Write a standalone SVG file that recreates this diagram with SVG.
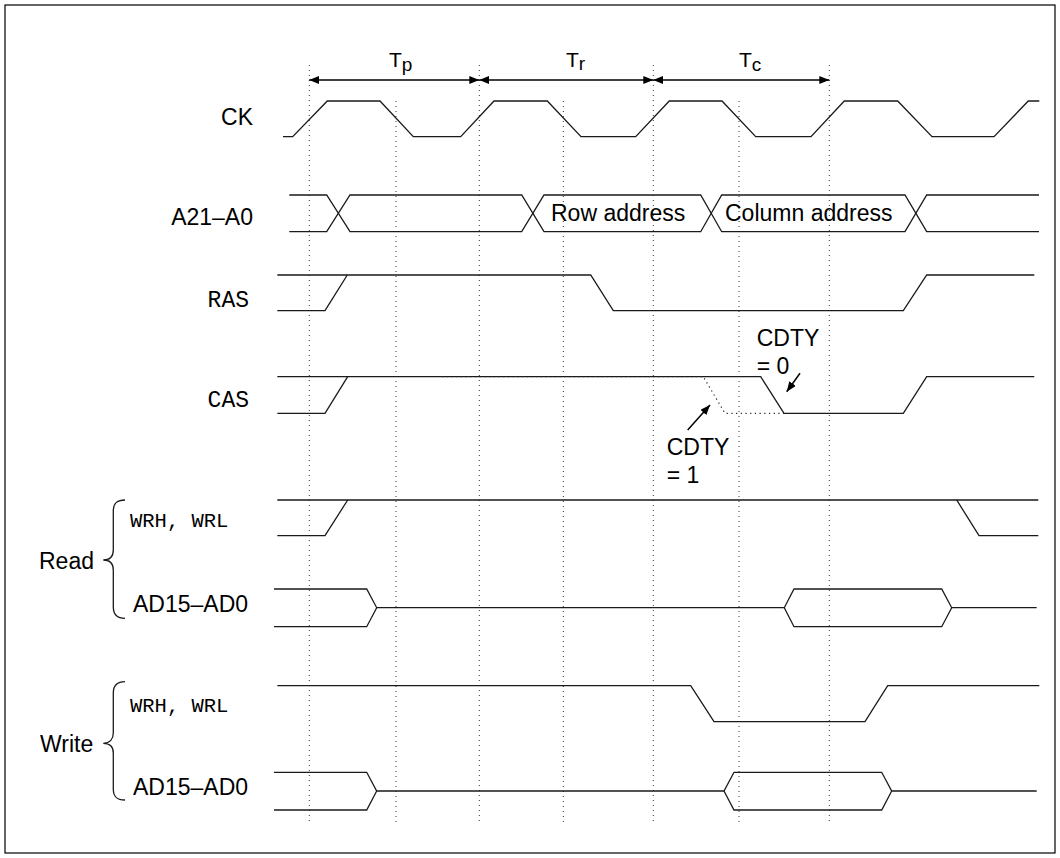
<svg xmlns="http://www.w3.org/2000/svg" width="1060" height="858" viewBox="0 0 1060 858">
<defs>
<marker id="ah" markerUnits="userSpaceOnUse" markerWidth="11" markerHeight="9" refX="10" refY="4" orient="auto-start-reverse"><path d="M0,0 L10,4 L0,8 z" fill="#000"/></marker>
<style>
.w{fill:none;stroke:#1a1a1a;stroke-width:1.3;stroke-linejoin:miter}
.g{fill:none;stroke:#333;stroke-width:1;stroke-dasharray:1 4}
.d{fill:none;stroke:#222;stroke-width:1.2;stroke-dasharray:1.2 3.5}
.s{font-family:"Liberation Sans",Arial,sans-serif;font-size:23px;fill:#000}
.t{font-family:"Liberation Sans",Arial,sans-serif;font-size:21px;fill:#000}
.m{font-family:"Liberation Mono","Courier New",monospace;fill:#000}
.a{fill:none;stroke:#000;stroke-width:1.5}
</style>
</defs>
<rect x="5" y="5" width="1050" height="848" fill="#fff" stroke="#000" stroke-width="1.2"/>

<g id="gridlines">
<line class="g" x1="309.3" y1="65" x2="309.3" y2="822"/>
<line class="g" x1="396" y1="101" x2="396" y2="822"/>
<line class="g" x1="479.3" y1="65" x2="479.3" y2="822"/>
<line class="g" x1="563.3" y1="101" x2="563.3" y2="822"/>
<line class="g" x1="653.3" y1="65" x2="653.3" y2="822"/>
<line class="g" x1="739" y1="101" x2="739" y2="822"/>
<line class="g" x1="829.3" y1="65" x2="829.3" y2="822"/>
</g>

<g id="period-labels">
<text class="t" x="389" y="67">T<tspan dy="3.5" font-size="19">p</tspan></text>
<text class="t" x="566" y="67">T<tspan dy="3" font-size="19">r</tspan></text>
<text class="t" x="739" y="67">T<tspan dy="3.5" font-size="19">c</tspan></text>
</g>

<g id="CK">
<text class="s" x="253" y="125" text-anchor="end">CK</text>
<polyline class="w" points="283,136.7 292.7,136.7 327.3,101 380,101 413.3,136.7 460.7,136.7 494,101 547.3,101 581,136.7 635.7,136.7 669.3,101 722,101 755.7,136.7 811,136.7 844.3,101 897.7,101 932,136.7 994,136.7 1028.3,101 1039.3,101"/>
</g>

<g id="A21-A0">
<text class="s" x="253" y="225" text-anchor="end">A21–A0</text>
<polyline class="w" points="289.3,195 326.7,195 350,231.7 521.7,231.7 544,195 700.7,195 721.7,231.7 905,231.7 926.7,195 1039,195"/>
<polyline class="w" points="289.3,231.7 326.7,231.7 350,195 521.7,195 544,231.7 700.7,231.7 721.7,195 905,195 926.7,231.7 1039,231.7"/>
<text class="s" x="551" y="220.7">Row address</text>
<text class="s" x="725" y="220.7">Column address</text>
</g>

<g id="RAS">
<text class="m" x="249" y="306.5" font-size="23" text-anchor="end">RAS</text>
<polyline class="w" points="277.3,275 347.3,275 590.7,275 613.3,310.7 903.3,310.7 926.7,275 1034.3,275"/>
<polyline class="w" points="277.3,310.7 325,310.7 347.3,275"/>
</g>

<g id="CAS">
<text class="m" x="249" y="406.5" font-size="23" text-anchor="end">CAS</text>
<polyline class="w" points="277.3,376.7 760.7,376.7 784,413.3 903.3,413.3 926.7,376.7 1034.3,376.7"/>
<polyline class="w" points="277.3,413.3 325,413.3 347.7,376.7"/>
<polyline class="d" points="442,376.7 703.3,376.7 725,413.3 784,413.3"/>
<text class="s" x="756.7" y="346">CDTY</text>
<text class="s" x="756.7" y="373.5">= 0</text>
<text class="s" x="666.7" y="455">CDTY</text>
<text class="s" x="666.7" y="483">= 1</text>
</g>

<g id="Read">
<text class="s" x="39" y="569">Read</text>
<path class="w" d="M125,500 C116,500 113.3,504 113.3,511 L113.3,550 C113.3,556 110,560 103.3,560 C110,560 113.3,564 113.3,570 L113.3,607 C113.3,614 116,618.3 125,618.3"/>
</g>

<g id="Read-WRH-WRL">
<text class="m" x="130" y="527" font-size="20.5">WRH, WRL</text>
<polyline class="w" points="277.3,500 956.7,500 979,535.7 1038.3,535.7"/>
<polyline class="w" points="277.3,535.7 325,535.7 347.7,500"/>
<line class="w" x1="956.7" y1="500" x2="1038.3" y2="500"/>
</g>

<g id="Read-AD15-AD0">
<text class="s" x="133" y="611.7">AD15–AD0</text>
<polyline class="w" points="274,589 366.7,589 376.7,607.7 784.3,607.7 794,589 941.7,589 951.7,607.7 1036.7,607.7"/>
<polyline class="w" points="274,626.7 366.7,626.7 376.7,607.7"/>
<polyline class="w" points="784.3,607.7 794,626.7 941.7,626.7 951.7,607.7"/>
</g>

<g id="Write">
<text class="s" x="40" y="751.7">Write</text>
<path class="w" d="M125,681.7 C116,681.7 113.3,686 113.3,693 L113.3,733 C113.3,739 110,743.3 103.3,743.3 C110,743.3 113.3,747 113.3,753 L113.3,789 C113.3,796 116,800 125,800"/>
</g>

<g id="Write-WRH-WRL">
<text class="m" x="130" y="711.5" font-size="20.5">WRH, WRL</text>
<polyline class="w" points="277.3,685.7 690.7,685.7 714,721.7 865,721.7 887.7,685.7 1039.3,685.7"/>
</g>

<g id="Write-AD15-AD0">
<text class="s" x="133" y="795">AD15–AD0</text>
<polyline class="w" points="274,772.3 366.7,772.3 376.7,791 724,791 734,772.3 881.7,772.3 891.7,791 1036.7,791"/>
<polyline class="w" points="274,810 366.7,810 376.7,791"/>
<polyline class="w" points="724,791 734,810 881.7,810 891.7,791"/>
</g>

<g id="connectors">
<line class="a" x1="309.3" y1="80" x2="479.3" y2="80" marker-start="url(#ah)" marker-end="url(#ah)"/>
<line class="a" x1="479.3" y1="80" x2="653.3" y2="80" marker-start="url(#ah)" marker-end="url(#ah)"/>
<line class="a" x1="653.3" y1="80" x2="829.3" y2="80" marker-start="url(#ah)" marker-end="url(#ah)"/>
<line class="a" x1="800" y1="373.3" x2="786.7" y2="391.7" marker-end="url(#ah)"/>
<line class="a" x1="687.7" y1="430" x2="710" y2="405" marker-end="url(#ah)"/>
</g>
</svg>
